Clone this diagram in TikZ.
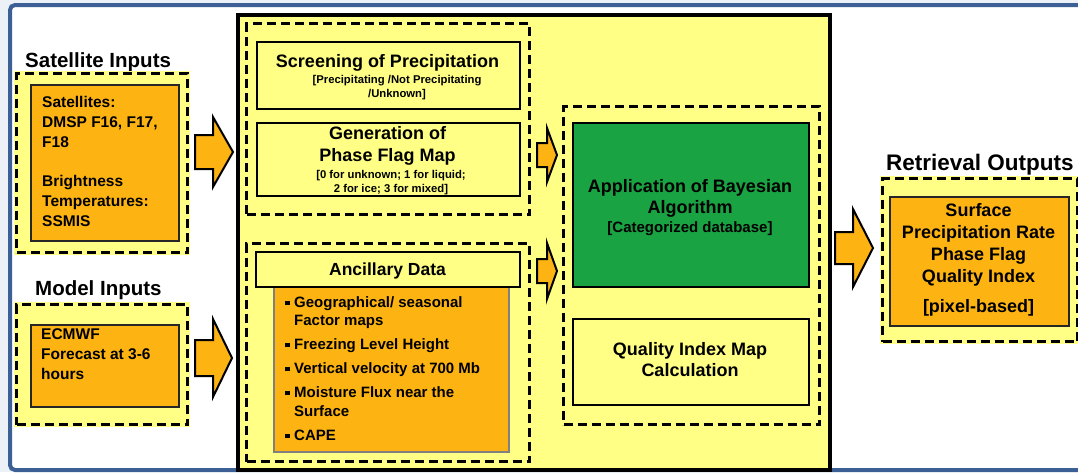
\documentclass[tikz,border=0pt]{standalone}
\usepackage{fontspec}
\setmainfont{Liberation Sans}
\definecolor{boxorange}{RGB}{253,180,19}
\definecolor{paleyellow}{RGB}{255,255,133}
\definecolor{algogreen}{RGB}{26,163,66}
\definecolor{frameblue}{RGB}{60,96,150}
\definecolor{pagegray}{RGB}{236,240,247}
\definecolor{listedge}{RGB}{128,128,128}
% bold text at a given size and line distance
\newcommand\bfsz[2]{\fontsize{#1}{#2}\selectfont\bfseries}
% small square bullet
\newcommand\sqbullet{\rule[2pt]{4.5pt}{4.5pt}\hspace{4.5pt}}
% block arrow: tail x, shaft end x, tip x, centre y, shaft half height, head half height
\newcommand\blockarrow[6]{%
  \draw[arrowshape] (#1,#4-#5) -- (#2,#4-#5) -- (#2,#4-#6) -- (#3,#4)
    -- (#2,#4+#6) -- (#2,#4+#5) -- (#1,#4+#5) -- cycle;}
\begin{document}
\begin{tikzpicture}[x=1pt,y=-1pt,
  txt/.style={inner sep=0pt},
  groupbox/.style={draw=black, fill=paleyellow, line width=3.3pt,
    dash pattern=on 9pt off 5pt,
    preaction={draw=paleyellow, line width=5pt, solid},
    inner sep=0pt, anchor=north west},
  bigbox/.style={draw=black, fill=paleyellow, line width=4pt, inner sep=0pt, anchor=north west},
  orangebox/.style={draw=black!85, fill=boxorange, line width=1.8pt, inner sep=0pt, anchor=north west},
  listbox/.style={draw=listedge, fill=boxorange, line width=1.5pt, inner sep=0pt, anchor=north west},
  plainbox/.style={draw=black, fill=paleyellow, line width=1.5pt, inner sep=0pt, anchor=north west},
  greenbox/.style={draw=black, fill=algogreen, line width=1.5pt, inner sep=0pt, anchor=north west},
  arrowshape/.style={fill=boxorange, draw=black, line width=2pt, line join=miter}]
\useasboundingbox (0,0) rectangle (1078,472);

% page background and slide frame
\fill[pagegray] (0,0) rectangle (1078,472);
\fill[white] (10,5) rectangle (1090,470);
\draw[frameblue, line width=4pt, rounded corners=5pt] (1090,5) -- (10,5) -- (10,470) -- (1090,470);

% ---------- inputs ----------
\node[txt, anchor=base west, font=\bfsz{20.5}{24}] (sattitle) at (25,67) {Satellite Inputs};
\node[groupbox, minimum width=171pt, minimum height=179pt] (satgroup) at (15,72) {};
\node[orangebox, minimum width=148pt, minimum height=156pt] (satbox) at (30,84) {};
\node[txt, anchor=north west, align=left, font=\bfsz{15.5}{20}] (sattext) at (42,95.7)
  {Satellites:\\DMSP F16, F17,\\F18\\[19pt]Brightness\\Temperatures:\\SSMIS};

\node[txt, anchor=base west, font=\bfsz{20.5}{24}] (modtitle) at (35,295) {Model Inputs};
\node[groupbox, minimum width=171pt, minimum height=120pt] (modgroup) at (15,303) {};
\node[orangebox, minimum width=148pt, minimum height=82pt] (modbox) at (30,324) {};
\node[txt, anchor=north west, align=left, font=\bfsz{15.5}{20}] (modtext) at (41,328.8)
  {ECMWF\\Forecast at 3-6\\hours};

\blockarrow{195}{213}{233}{152}{17}{35}
\blockarrow{195}{213}{232}{358}{18}{39}

% ---------- processing ----------
\node[bigbox, minimum width=592pt, minimum height=455pt] (proc) at (236,13) {};

\node[groupbox, minimum width=283pt, minimum height=191pt] (upgroup) at (245,22) {};
\node[plainbox, minimum width=263pt, minimum height=67pt] (screen) at (256,41) {};
\node[txt, anchor=base, font=\bfsz{18}{22}] (screentitle) at (387.5,67) {Screening of Precipitation};
\node[txt, anchor=north, align=center, font=\bfsz{11.3}{14}] (screensub) at (397,74.8)
  {[Precipitating /Not Precipitating\\/Unknown]};

\node[plainbox, minimum width=263pt, minimum height=73pt] (phase) at (256,122) {};
\node[txt, anchor=north, align=center, font=\bfsz{18}{22}] (phasetitle) at (387.5,126.7)
  {Generation of\\Phase Flag Map};
\node[txt, anchor=north, align=center, font=\bfsz{11.3}{14}] (phasesub) at (391,169.7)
  {[0 for unknown; 1 for liquid;\\2 for ice; 3 for mixed]};

\node[groupbox, minimum width=283pt, minimum height=218pt] (lowgroup) at (245,242) {};
\node[listbox, minimum width=235pt, minimum height=165pt] (anclist) at (273,286) {};
\node[plainbox, minimum width=264pt, minimum height=35pt] (anchead) at (255,251) {};
\node[txt, anchor=base, font=\bfsz{17.5}{21}] (anctitle) at (387.5,275) {Ancillary Data};
\node[txt, anchor=north west, align=left, font=\bfsz{15}{18}] (anctext) at (285,296)
  {\sqbullet Geographical/ seasonal\\
   \hspace*{9pt}Factor maps\\[6pt]
   \sqbullet Freezing Level Height\\[6pt]
   \sqbullet Vertical velocity at 700 Mb\\[6pt]
   \sqbullet Moisture Flux near the\\[1pt]
   \hspace*{9pt}Surface\\[6pt]
   \sqbullet CAPE};

\blockarrow{537}{547}{557}{155}{12}{27}
\blockarrow{537}{547}{557}{271}{12}{28}

\node[groupbox, minimum width=256pt, minimum height=318pt] (rightgroup) at (562,105) {};
\node[greenbox, minimum width=236pt, minimum height=164pt] (bayes) at (572,122) {};
\node[txt, anchor=north, align=center, font=\bfsz{18}{21}] (bayestitle) at (690,179)
  {Application of Bayesian\\Algorithm};
\node[txt, anchor=base, font=\bfsz{15}{18}] (bayessub) at (690,232) {[Categorized database]};
\node[plainbox, minimum width=236pt, minimum height=86pt] (quality) at (572,318) {};
\node[txt, anchor=north, align=center, font=\bfsz{18}{21}] (qualitytext) at (690,342.7)
  {Quality Index Map\\Calculation};

% ---------- outputs ----------
\blockarrow{835}{853}{873}{248}{16}{39}

\node[txt, anchor=base west, font=\bfsz{22.5}{26}] (outtitle) at (886,170) {Retrieval Outputs};
\node[groupbox, minimum width=195pt, minimum height=163pt] (outgroup) at (881,177) {};
\node[orangebox, minimum width=179pt, minimum height=129pt] (outbox) at (889,196) {};
\node[txt, anchor=north, align=center, font=\bfsz{18}{22}] (outtext) at (978.5,203.7)
  {Surface\\Precipitation Rate\\Phase Flag\\Quality Index\\[8pt]{[}pixel-based]};
\end{tikzpicture}
\end{document}
